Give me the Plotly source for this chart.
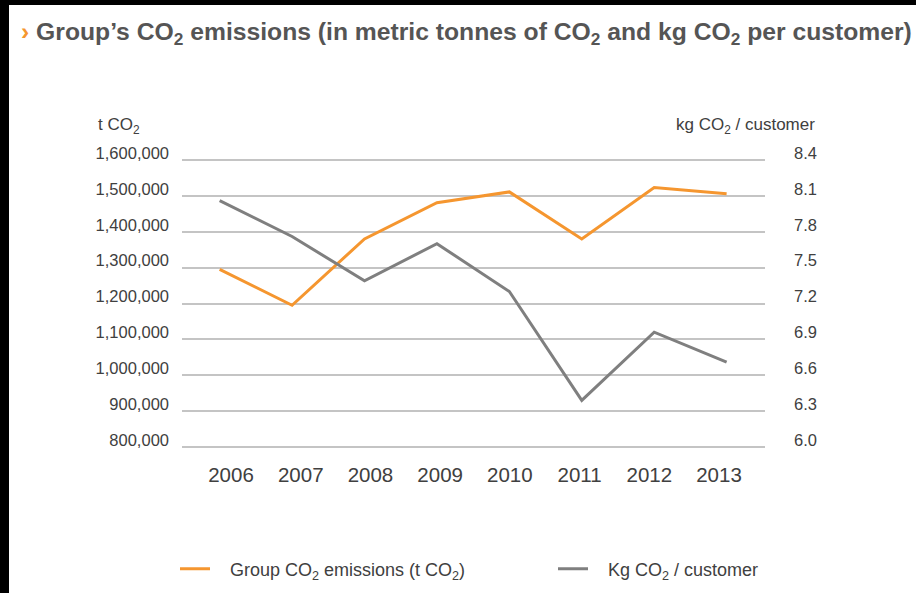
import plotly.graph_objects as go

years = ["2006", "2007", "2008", "2009", "2010", "2011", "2012", "2013"]
emissions_t = [1295000, 1195000, 1380000, 1481000, 1511000, 1380000, 1523000, 1506000]
kg_per_customer = [8.06, 7.76, 7.39, 7.70, 7.30, 6.39, 6.96, 6.71]
left_ticks = [800000, 900000, 1000000, 1100000, 1200000, 1300000, 1400000, 1500000, 1600000]
right_ticks = [6.0, 6.3, 6.6, 6.9, 7.2, 7.5, 7.8, 8.1, 8.4]

ORANGE = "#F5962F"
GREY = "#7F7F7F"
TEXT = "#404040"
FONT = "Liberation Sans, Arial, Helvetica, sans-serif"

# plot area in pixels (2px padding above/below the outer gridlines so they are drawn)
PAD = 2
L, R, T, B = 182, 765, 160 - PAD, 447 + PAD
W, H = 916, 593
GRID_H = 287  # pixels between the 800,000 and 1,600,000 gridlines


def px(x):
    return (x - L) / (R - L)


def py(y):
    return (B - y) / (B - T)


left_lo, left_hi = left_ticks[0], left_ticks[-1]
right_lo, right_hi = right_ticks[0], right_ticks[-1]
lpad = (left_hi - left_lo) / GRID_H * PAD
rpad = (right_hi - right_lo) / GRID_H * PAD

xs = list(range(len(years)))
NB = "\u00a0\u00a0\u00a0"

fig = go.Figure()
fig.add_trace(go.Scatter(x=xs, y=emissions_t, mode="lines",
                         name=NB + "Group CO<sub>2</sub> emissions (t CO<sub>2</sub>)",
                         line=dict(color=ORANGE, width=3), xaxis="x", yaxis="y", legend="legend"))
fig.add_trace(go.Scatter(x=xs, y=kg_per_customer, mode="lines", name=NB + "Kg CO<sub>2</sub> / customer",
                         line=dict(color=GREY, width=3), xaxis="x", yaxis="y2", legend="legend2"))
# carrier for the year labels axis (invisible)
fig.add_trace(go.Scatter(x=xs, y=emissions_t, mode="lines", line=dict(width=0, color="rgba(0,0,0,0)"),
                         xaxis="x2", yaxis="y", showlegend=False, hoverinfo="skip"))

annotations = [
    dict(text="<span style='color:%s'><b>›</b></span> <b>Group’s CO<sub>2</sub> emissions (in metric tonnes of CO<sub>2</sub> and kg CO<sub>2</sub> per customer)</b>" % ORANGE,
         x=px(19), y=py(34), xref="paper", yref="paper", xanchor="left", yanchor="middle",
         showarrow=False, font=dict(family=FONT, size=24.7, color="#555555")),
    dict(text="t CO<sub>2</sub>", x=px(96), y=py(126), xref="paper", yref="paper",
         xanchor="left", yanchor="middle", showarrow=False, font=dict(family=FONT, size=17, color=TEXT)),
    dict(text="kg CO<sub>2</sub> / customer", x=px(817), y=py(126), xref="paper", yref="paper",
         xanchor="right", yanchor="middle", showarrow=False, font=dict(family=FONT, size=17, color=TEXT)),
]

shapes = [
    dict(type="rect", xref="paper", yref="paper", x0=px(-2), x1=px(9), y0=py(-2), y1=py(H + 2),
         fillcolor="black", line=dict(width=0), layer="above"),
    dict(type="rect", xref="paper", yref="paper", x0=px(-2), x1=px(W + 2), y0=py(-2), y1=py(5),
         fillcolor="black", line=dict(width=0), layer="above"),
]

legend_common = dict(orientation="h", yanchor="middle", xanchor="left", itemwidth=30,
                     font=dict(family=FONT, size=18, color=TEXT), bgcolor="rgba(0,0,0,0)")

fig.update_layout(
    width=W, height=H,
    margin=dict(l=L, r=W - R, t=T, b=H - B, autoexpand=False),
    paper_bgcolor="white", plot_bgcolor="white",
    font=dict(family=FONT, color=TEXT),
    showlegend=True,
    legend=dict(x=px(175), y=py(569), **legend_common),
    legend2=dict(x=px(553), y=py(569), **legend_common),
    xaxis=dict(range=[-0.52, 7.53], tickvals=xs, showticklabels=False, showgrid=False, zeroline=False,
               showline=False, ticks="", fixedrange=True),
    xaxis2=dict(range=[-0.703, 7.66], tickvals=xs, ticktext=years, overlaying="x", anchor="y", side="bottom",
                showgrid=False, zeroline=False, showline=False, ticks="",
                tickfont=dict(size=20.5, color=TEXT), ticklabelstandoff=11, fixedrange=True),
    yaxis=dict(range=[left_lo - lpad, left_hi + lpad], tickvals=left_ticks, tickformat=",d", showgrid=True,
               gridcolor="#C4C4C4", gridwidth=1.5, zeroline=False, showline=False, ticks="",
               tickfont=dict(size=16.5, color=TEXT), ticklabelstandoff=12, ticklabelshift=-7),
    yaxis2=dict(range=[right_lo - rpad, right_hi + rpad], tickvals=right_ticks, tickformat=".1f",
                overlaying="y", side="right", showgrid=False, zeroline=False, showline=False, ticks="",
                tickfont=dict(size=16.5, color=TEXT), ticklabelstandoff=28, ticklabelshift=-7),
    annotations=annotations,
    shapes=shapes,
)

fig.write_html("out.html")
